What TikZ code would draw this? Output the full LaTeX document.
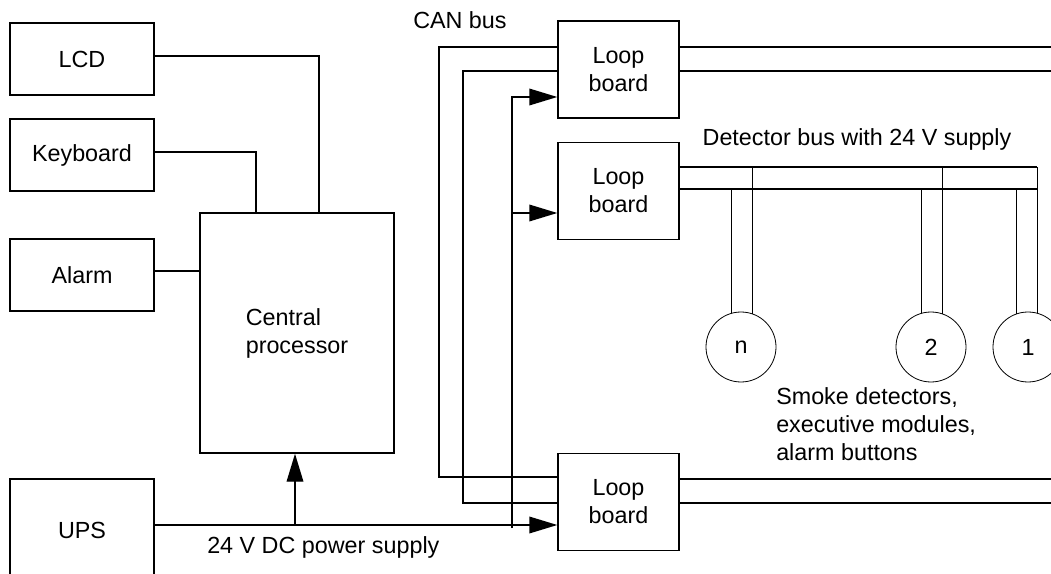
\documentclass[tikz,border=0pt]{standalone}
\usepackage{fontspec}
\setmainfont{Liberation Sans}
\usetikzlibrary{arrows.meta}
\tikzset{unitbox/.style={draw,line width=1.1pt,inner sep=0pt,minimum width=108pt,minimum height=54pt,align=center},
  boardbox/.style={draw,line width=1.1pt,inner sep=0pt,minimum width=90.75pt,minimum height=72.75pt,align=center},
  detector/.style={draw,circle,line width=.6pt,inner sep=0pt,minimum size=52.5pt},
  wire/.style={line width=1.1pt},
  feed/.style={-{Triangle[length=21pt,width=12.5pt]},line width=1.1pt},
  caption/.style={inner sep=0pt}}

\begin{document}
\begin{tikzpicture}[x=.75pt,y=-.75pt,font=\fontsize{17.5}{21}\selectfont]
\useasboundingbox (0,0) rectangle (1051,574);
\node[unitbox] (lcd) at (82,59) {LCD};
\node[unitbox] (keyboard) at (82,155) {Keyboard};
\node[unitbox] (alarm) at (82,275) {Alarm};
\node[unitbox,minimum height=76.5pt] (ups) at (82,530) {UPS};
\node[unitbox,minimum width=145.5pt,minimum height=180pt,align=left] (cpu) at (297,333) {Central\\processor};
\node[boardbox] (loopA) at (618.5,69.5) {Loop\\board};
\node[boardbox] (loopB) at (618.5,191) {Loop\\board};
\node[boardbox] (loopC) at (618.5,502) {Loop\\board};
\node[detector] (detN) at (741,347) {n};
\node[detector] (det2) at (931,347) {2};
\node[detector] (det1) at (1028,347) {1};
\node[caption,anchor=west] (canlabel) at (413,20) {CAN bus};
\node[caption] (buslabel) at (857,139) {Detector bus with 24 V supply};
\node[caption,anchor=base west] (powerlabel) at (207,553) {24 V DC power supply};
\node[caption,anchor=west,align=left] (smokelabel) at (776,424) {Smoke detectors,\\executive modules,\\alarm buttons};
% control side
\draw[wire] (lcd.east |- 0,56) -| (319,0 |- cpu.north);
\draw[wire] (keyboard.east |- 0,152) -| (256,0 |- cpu.north);
\draw[wire] (alarm.east |- 0,271) -- (cpu.west |- 0,271);
\draw[feed] (295,525) -- (295,0 |- cpu.south);
% CAN bus
\draw[wire] (loopA.west |- 0,47) -| (439,477) -- (loopC.west |- 0,477);
\draw[wire] (loopA.west |- 0,71) -| (463,503) -- (loopC.west |- 0,503);
% 24 V supply
\draw[feed] (ups.east |- 0,525) -- (loopC.west |- 0,525);
\draw[feed] (512,528) |- (loopA.west |- 0,97);
\draw[feed] (512,213) -- (loopB.west |- 0,213);
% detector loops
\foreach \b/\y in {loopA/47,loopA/71,loopC/479,loopC/503} \draw[wire] (\b.east |- 0,\y) -- (1051,\y);
\draw[wire] (loopB.east |- 0,167) -- (1037,167);
\draw[wire] (loopB.east |- 0,189) -- (1037,189);
\foreach \d/\l/\r in {detN/106/71,det2/106/71,det1/109/74} {
  \draw[wire] (\d.\l) -- (\d.\l |- 0,189);
  \draw[wire] (\d.\r) -- (\d.\r |- 0,167);}
\end{tikzpicture}
\end{document}
